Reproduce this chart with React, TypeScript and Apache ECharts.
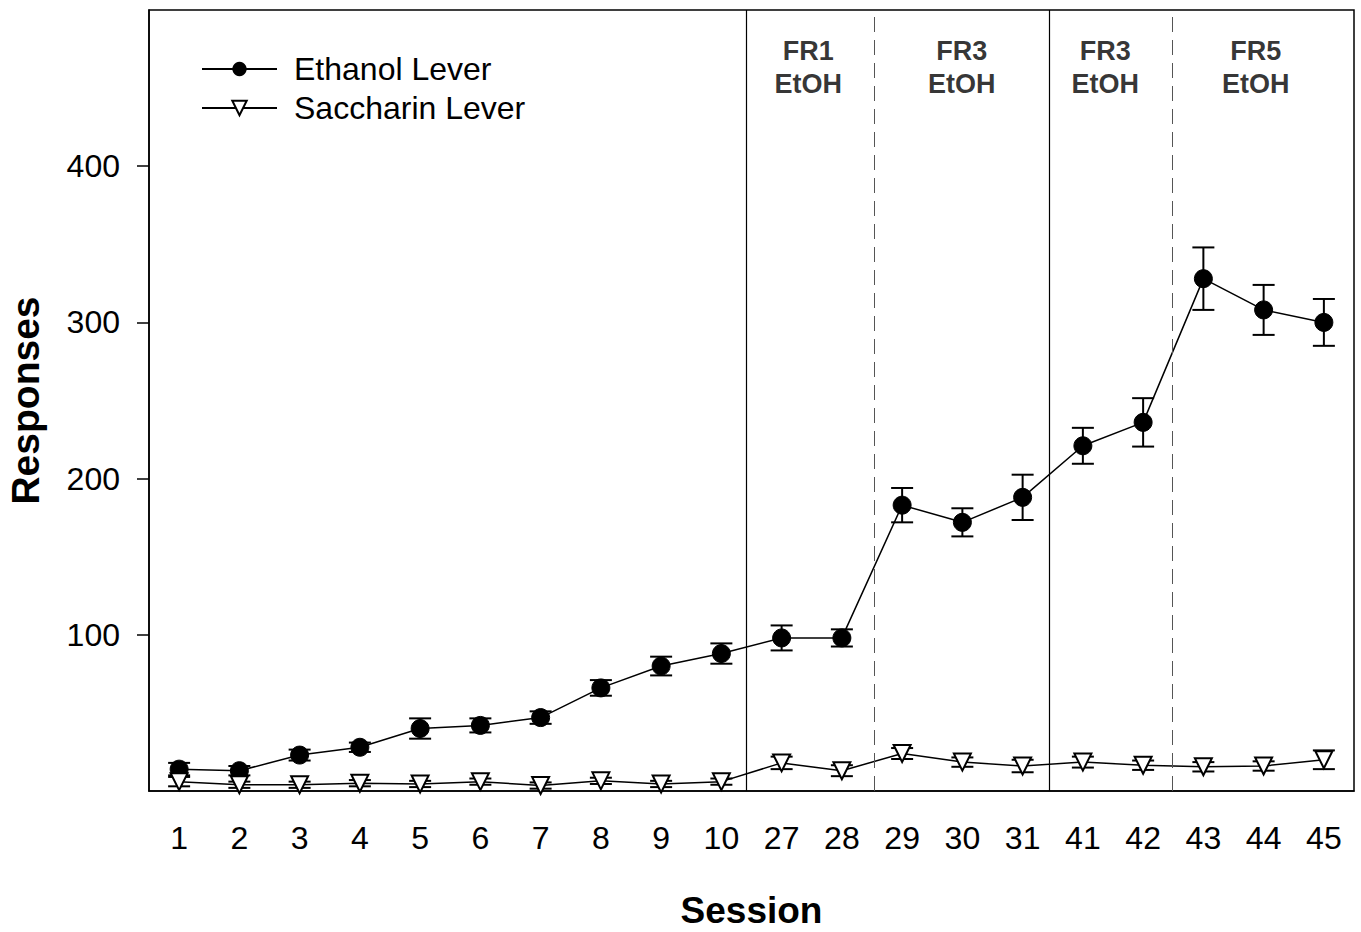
import React, { useEffect, useRef } from "react";
import * as echarts from "echarts";

const sessions = ["1", "2", "3", "4", "5", "6", "7", "8", "9", "10", "27", "28", "29", "30", "31", "41", "42", "43", "44", "45"];
const ethanol = [14, 13, 23, 28, 40, 42, 47, 66, 80, 88, 98, 98, 183, 172, 188, 221, 236, 328, 308, 300];
const ethanolErr = [4, 3, 3.5, 3, 6.5, 4.5, 4, 5, 6, 6.5, 8, 5.5, 11, 9, 14.5, 11.5, 15.5, 20, 16, 15];
const saccharin = [6, 4, 4, 5, 4.5, 6, 3.5, 6.5, 4.5, 6, 18, 13, 24, 18.5, 16, 18.5, 16.5, 15.5, 16, 20];
const saccharinErr = [3, 2, 2, 2, 2, 2, 2, 2, 2, 2, 4, 3.5, 3.5, 3, 4, 3.5, 3, 3, 3, 6];
const yTicks = [100, 200, 300, 400];
const phaseBounds = [9.91, 12.03, 14.95, 16.98];
const phaseDashed = [false, true, false, true];
const phaseLabels = ["FR1\nEtOH", "FR3\nEtOH", "FR3\nEtOH", "FR5\nEtOH"];
const phaseLabelX = [10.94, 13.49, 15.87, 18.37];
const phaseLabelY = 463;

const FONT = "Liberation Sans, Arial, sans-serif";

function errorBars(vals: number[], errs: number[], capW: number) {
  return {
    type: "custom",
    xAxisIndex: 0,
    yAxisIndex: 0,
    z: 1,
    silent: true,
    encode: { x: 0, y: [1, 2] },
    data: vals.map((v, i) => [i, v - errs[i], v + errs[i]]),
    renderItem: (params: any, api: any) => {
      const lo = api.coord([api.value(0), api.value(1)]);
      const hi = api.coord([api.value(0), api.value(2)]);
      const style = { stroke: "#000", lineWidth: 2 };
      return {
        type: "group",
        children: [
          { type: "line", shape: { x1: lo[0], y1: lo[1], x2: hi[0], y2: hi[1] }, style },
          { type: "line", shape: { x1: lo[0] - capW / 2, y1: lo[1], x2: lo[0] + capW / 2, y2: lo[1] }, style },
          { type: "line", shape: { x1: hi[0] - capW / 2, y1: hi[1], x2: hi[0] + capW / 2, y2: hi[1] }, style },
        ],
      };
    },
  };
}

export default function App() {
  const ref = useRef<HTMLDivElement>(null);
  useEffect(() => {
    if (!ref.current) return;
    const chart = echarts.init(ref.current, undefined, { renderer: "svg" });
    chart.setOption({
      animation: false,
      backgroundColor: "#fff",
      textStyle: { fontFamily: FONT },
      grid: {
        left: 149,
        right: 7,
        top: 10,
        bottom: 141,
        outerBoundsMode: "none",
        containLabel: false,
        show: true,
        borderColor: "#000",
        borderWidth: 1.5,
        backgroundColor: "transparent",
      },
      legend: {
        orient: "vertical",
        left: 196,
        top: 48,
        itemWidth: 75,
        itemHeight: 18,
        itemGap: 7,
        textStyle: { fontSize: 32, color: "#000", fontFamily: FONT, padding: [0, 0, 0, 12] },
        data: ["Ethanol Lever", "Saccharin Lever"],
      },
      xAxis: [
        {
          type: "category",
          data: sessions,
          boundaryGap: true,
          name: "Session",
          nameLocation: "middle",
          nameGap: 101,
          nameTextStyle: { fontSize: 37, fontWeight: "bold", color: "#000", fontFamily: FONT },
          axisLine: { lineStyle: { color: "#000", width: 1.5 } },
          axisTick: { alignWithLabel: true, length: 13, lineStyle: { color: "#000", width: 2 } },
          axisLabel: { fontSize: 32, color: "#000", margin: 31, fontFamily: FONT },
          splitLine: { show: false },
        },
        { type: "value", min: 0, max: 20, show: false },
      ],
      yAxis: {
        type: "value",
        min: 0,
        max: 500,
        interval: 100,
        name: "Responses",
        nameLocation: "middle",
        nameGap: 104,
        nameTextStyle: { fontSize: 39, fontWeight: "bold", color: "#000", fontFamily: FONT },
        axisLine: { show: true, lineStyle: { color: "#000", width: 1.5 } },
        axisTick: { show: true, length: 12, lineStyle: { color: "#000", width: 1.5 }, customValues: yTicks },
        axisLabel: {
          fontSize: 32,
          color: "#000",
          margin: 29,
          fontFamily: FONT,
          customValues: yTicks,
        },
        splitLine: { show: false },
      },
      series: [
        errorBars(ethanol, ethanolErr, 22),
        errorBars(saccharin, saccharinErr, 22),
        {
          name: "Ethanol Lever",
          type: "line",
          data: ethanol,
          z: 3,
          symbol: "circle",
          symbolSize: 18,
          lineStyle: { color: "#000", width: 1.5 },
          itemStyle: { color: "#000", borderColor: "#000" },
        },
        {
          name: "Saccharin Lever",
          type: "line",
          data: saccharin,
          z: 3,
          symbol: "triangle",
          symbolRotate: 180,
          symbolSize: 17,
          lineStyle: { color: "#000", width: 1.5 },
          itemStyle: { color: "#fff", borderColor: "#000", borderWidth: 2 },
        },
        {
          type: "scatter",
          xAxisIndex: 1,
          yAxisIndex: 0,
          symbolSize: 0,
          silent: true,
          data: phaseLabels.map((l, i) => ({ value: [phaseLabelX[i], phaseLabelY], name: l })),
          label: {
            show: true,
            position: "inside",
            formatter: (p: any) => p.name,
            fontSize: 27,
            fontWeight: "bold",
            color: "#000",
            lineHeight: 33,
            fontFamily: FONT,
          },
          markLine: {
            silent: true,
            symbol: "none",
            label: { show: false },
            data: phaseBounds.map((b, i) => ({
              xAxis: b,
              lineStyle: phaseDashed[i]
                ? { type: [15, 8], color: "#555", width: 1 }
                : { type: "solid", color: "#000", width: 1.2 },
            })),
          },
        },
      ],
    });
    return () => chart.dispose();
  }, []);
  return <div ref={ref} style={{ position: "absolute", left: 0, top: 0, width: 1361, height: 932 }} />;
}
